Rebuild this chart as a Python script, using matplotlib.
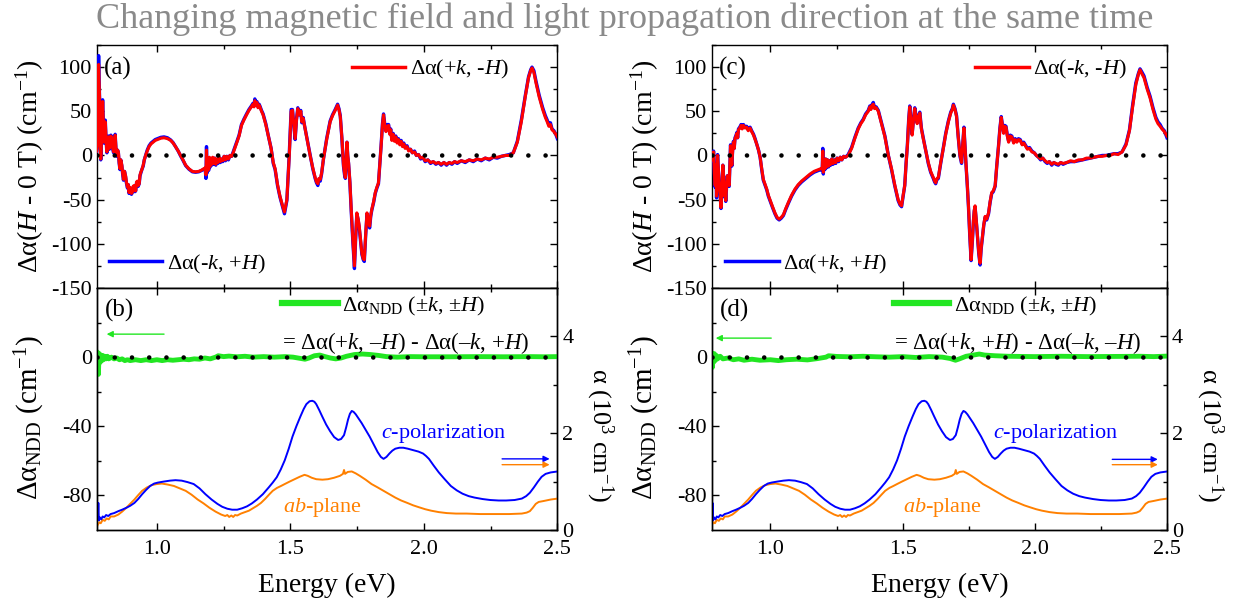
import matplotlib
matplotlib.use('Agg')
import matplotlib.pyplot as plt
from matplotlib.lines import Line2D
from matplotlib.ticker import FixedLocator, MultipleLocator, FormatStrFormatter

# ---------------- data ----------------
# panel (a): Delta alpha(H - 0 T), red = (+k,-H), blue = (-k,+H)
E_a = [0.775, 0.778, 0.782, 0.785, 0.787, 0.790, 0.793, 0.797, 0.800, 0.802,
       0.805, 0.807, 0.810, 0.813, 0.816, 0.819, 0.822, 0.825, 0.828, 0.832,
       0.835, 0.838, 0.841, 0.844, 0.847, 0.850, 0.853, 0.856, 0.859, 0.862,
       0.865, 0.869, 0.872, 0.875, 0.879, 0.883, 0.886, 0.890, 0.893, 0.896,
       0.899, 0.902, 0.905, 0.908, 0.911, 0.915, 0.918, 0.921, 0.924, 0.927,
       0.930, 0.934, 0.937, 0.940, 0.944, 0.949, 0.953, 0.958, 0.964, 0.971,
       0.978, 0.986, 0.994, 1.002, 1.015, 1.027, 1.040, 1.052, 1.061, 1.070,
       1.080, 1.089, 1.098, 1.108, 1.120, 1.133, 1.145, 1.157, 1.168, 1.176,
       1.181, 1.184, 1.186, 1.188, 1.191, 1.194, 1.197, 1.200, 1.203, 1.206,
       1.209, 1.213, 1.217, 1.221, 1.225, 1.229, 1.233, 1.238, 1.242, 1.247,
       1.252, 1.257, 1.262, 1.268, 1.274, 1.280, 1.286, 1.292, 1.300, 1.308,
       1.317, 1.326, 1.336, 1.345, 1.354, 1.360, 1.364, 1.367, 1.371, 1.375,
       1.379, 1.383, 1.386, 1.392, 1.398, 1.408, 1.417, 1.428, 1.436, 1.443,
       1.452, 1.461, 1.470, 1.478, 1.487, 1.496, 1.503, 1.508, 1.513, 1.518,
       1.523, 1.528, 1.533, 1.539, 1.543, 1.548, 1.553, 1.563, 1.574, 1.584,
       1.593, 1.598, 1.603, 1.607, 1.612, 1.617, 1.624, 1.636, 1.649, 1.658,
       1.668, 1.677, 1.682, 1.687, 1.693, 1.699, 1.703, 1.706, 1.712, 1.715,
       1.718, 1.723, 1.728, 1.734, 1.740, 1.745, 1.749, 1.754, 1.758, 1.763,
       1.768, 1.773, 1.777, 1.782, 1.787, 1.792, 1.797, 1.801, 1.805, 1.812,
       1.818, 1.824, 1.830, 1.835, 1.840, 1.845, 1.849, 1.853, 1.858, 1.863,
       1.868, 1.872, 1.876, 1.880, 1.885, 1.890, 1.895, 1.900, 1.905, 1.910,
       1.915, 1.920, 1.925, 1.930, 1.937, 1.943, 1.950, 1.957, 1.965, 1.972,
       1.980, 1.988, 1.996, 2.005, 2.015, 2.025, 2.035, 2.045, 2.055, 2.065,
       2.075, 2.085, 2.095, 2.105, 2.115, 2.125, 2.140, 2.155, 2.170, 2.185,
       2.200, 2.215, 2.230, 2.245, 2.260, 2.275, 2.290, 2.305, 2.320, 2.335,
       2.350, 2.365, 2.380, 2.392, 2.400, 2.405, 2.412, 2.420, 2.432, 2.445,
       2.455, 2.462, 2.468, 2.474, 2.480, 2.487, 2.494, 2.500]
red_a = [5, 11, 103, 70, 50, -4, 20, 61, 35, 15,
         30, 38, 18, 4, 15, 21, 8, 11, 22, 19,
         8, 4, 14, 23, 8, 0, 6, 4, -8, -15,
         -5, -11, -20, -27, -18, -23, -30, -36, -33, -42,
         -36, -38, -43, -42, -35, -34, -40, -40, -30, -29,
         -34, -32, -22, -19, -16, -11, -5, 0, 5, 10,
         13, 15, 17, 18, 19.5, 20, 19, 17, 14, 10,
         5, 0, -5, -11, -15, -18, -18.5, -18, -16.5, -15,
         -14, -22, 6, -18, -4, -16, -2, -12, -4, -10,
         -2, -9, -3, -10, -4, -8, -2, -7, -4, -6,
         -1, -5, -1, -4, 0, -1, 3, 8, 15, 22,
         34, 40, 46, 51, 55, 58, 55, 62, 57, 60,
         54, 57, 55, 50, 46, 35, 23, 8, -8, -15,
         -33, -46, -56, -64, -50, 0, 50, 51, 35, 19,
         40, 53, 46, 50, 38, 42, 34, 18, 0, -14,
         -25, -30, -32, -26, -27, -20, -4, 18, 38, 45,
         51, 57, 52, 44, 20, -11, -20, -25, 15, 0,
         -8, -30, -61, -95, -125, -90, -65, -72, -80, -96,
         -111, -117, -118, -90, -65, -74, -80, -68, -61, -52,
         -42, -36, -31, -10, 11, 35, 46, 36, 27, 33,
         34, 24, 29, 17, 24, 16, 21, 14, 18, 12,
         16, 10, 13, 8, 10, 5, 7, 3, 4, 0,
         1, -3, -2, -6, -5, -8, -7, -9, -8, -10,
         -8, -10, -8, -9, -7, -8, -6, -7, -5, -6,
         -4, -5, -3, -4, -2, -2, -1, 0, 0, 3,
         15, 38, 67, 88, 96, 99, 94, 82, 66, 52,
         43, 38, 33, 35, 29, 27, 24, 21]
blue_a = [5, 12, 113, 72, 52, -5, 22, 63, 36, 14,
          31, 40, 17, 3, 16, 22, 7, 12, 23, 19,
          7, 3, 15, 24, 7, -1, 6, 3, -9, -16,
          -5, -12, -21, -28, -18, -24, -31, -37, -33, -43,
          -37, -39, -44, -42, -36, -35, -41, -40, -31, -30,
          -35, -32, -23, -20, -16, -12, -5, 0, 6, 11,
          14, 16, 18, 19, 20.5, 21, 20, 17.5, 14.5, 10,
          5, -0.5, -5.5, -11.5, -15.5, -18.5, -19, -18.5, -17, -15.5,
          -15, -26, 10, -20, -4, -17, -3, -13, -5, -11,
          -3, -10, -3, -11, -5, -9, -2, -8, -4, -7,
          -1, -6, -1, -5, 0, -1, 4, 9, 16, 23,
          35, 41, 47, 52, 56, 59, 56, 64, 58, 61,
          55, 58, 56, 51, 47, 36, 23, 8, -9, -16,
          -34, -47, -57, -66, -51, 2, 52, 52, 34, 18,
          41, 54, 46, 51, 37, 43, 34, 18, 0, -15,
          -26, -31, -34, -27, -29, -21, -4, 19, 39, 46,
          52, 58, 53, 45, 19, -12, -22, -26, 15, -1,
          -9, -31, -63, -97, -128, -91, -66, -73, -82, -97,
          -112, -118, -120, -91, -66, -75, -82, -69, -62, -53,
          -43, -37, -32, -10, 12, 36, 47, 37, 28, 35,
          35, 25, 30, 18, 25, 17, 22, 15, 19, 13,
          17, 11, 14, 9, 11, 6, 7, 3, 5, 0,
          1, -4, -2, -7, -5, -9, -7, -10, -8, -11,
          -8, -11, -8, -10, -7, -9, -6, -8, -5, -7,
          -4, -6, -3, -5, -2, -3, -1, 0, 1, 3,
          16, 40, 68, 89, 97, 100, 96, 84, 68, 54,
          45, 40, 35, 37, 30, 28, 24, 19]

# panel (c): red = (-k,-H), blue = (+k,+H)
E_c = [0.778, 0.781, 0.785, 0.788, 0.791, 0.794, 0.796, 0.800, 0.803, 0.806,
       0.810, 0.813, 0.817, 0.820, 0.823, 0.826, 0.829, 0.831, 0.834, 0.837,
       0.840, 0.844, 0.847, 0.849, 0.852, 0.854, 0.857, 0.860, 0.863, 0.866,
       0.870, 0.873, 0.876, 0.879, 0.884, 0.889, 0.893, 0.898, 0.904, 0.910,
       0.916, 0.923, 0.929, 0.936, 0.942, 0.948, 0.955, 0.961, 0.967, 0.973,
       0.980, 0.986, 0.992, 0.998, 1.008, 1.017, 1.025, 1.033, 1.041, 1.049,
       1.058, 1.068, 1.080, 1.093, 1.105, 1.118, 1.134, 1.150, 1.165, 1.181,
       1.190, 1.196, 1.198, 1.200, 1.203, 1.206, 1.209, 1.212, 1.216, 1.220,
       1.224, 1.228, 1.232, 1.237, 1.242, 1.247, 1.252, 1.258, 1.264, 1.270,
       1.277, 1.284, 1.294, 1.307, 1.320, 1.332, 1.342, 1.351, 1.360, 1.370,
       1.376, 1.380, 1.385, 1.389, 1.394, 1.400, 1.408, 1.420, 1.433, 1.446,
       1.458, 1.470, 1.483, 1.490, 1.496, 1.502, 1.508, 1.513, 1.518, 1.523,
       1.527, 1.531, 1.536, 1.541, 1.546, 1.551, 1.555, 1.560, 1.565, 1.571,
       1.578, 1.588, 1.597, 1.606, 1.616, 1.621, 1.625, 1.630, 1.635, 1.644,
       1.654, 1.663, 1.673, 1.682, 1.688, 1.692, 1.698, 1.704, 1.710, 1.717,
       1.723, 1.728, 1.732, 1.736, 1.740, 1.745, 1.749, 1.754, 1.759, 1.764,
       1.768, 1.771, 1.774, 1.779, 1.784, 1.788, 1.793, 1.797, 1.802, 1.807,
       1.812, 1.818, 1.825, 1.831, 1.837, 1.843, 1.850, 1.856, 1.863, 1.868,
       1.873, 1.877, 1.882, 1.886, 1.891, 1.896, 1.901, 1.907, 1.913, 1.920,
       1.926, 1.932, 1.938, 1.945, 1.952, 1.958, 1.964, 1.972, 1.980, 1.989,
       1.998, 2.006, 2.014, 2.022, 2.030, 2.039, 2.047, 2.055, 2.064, 2.072,
       2.080, 2.089, 2.098, 2.107, 2.121, 2.135, 2.150, 2.165, 2.180, 2.195,
       2.210, 2.225, 2.240, 2.255, 2.270, 2.285, 2.300, 2.315, 2.330, 2.345,
       2.358, 2.370, 2.382, 2.392, 2.398, 2.404, 2.413, 2.425, 2.436, 2.447,
       2.458, 2.466, 2.474, 2.481, 2.490, 2.500]
red_c = [3, -5, 4, -20, -34, -10, -46, 0, -15, -34,
         -45, -59, -30, -11, -25, -46, -40, -51, -35, -23,
         -30, -34, -5, 11, -2, -11, 5, 15, 8, 19,
         22, 25, 20, 29, 31, 34, 30, 34, 31, 32,
         28, 31, 27, 23, 18, 13, 6, -2, -15, -27,
         -33, -38, -45, -50, -58, -65, -70, -72, -70, -67,
         -60, -53, -45, -38, -33, -29, -25, -21, -18, -16,
         -15, -15, 5, -19, -6, -15, -4, -13, -5, -12,
         -6, -10, -4, -9, -5, -8, -3, -6, -2, -5,
         -1, -2, 0, 8, 20, 30, 36, 40, 46, 50,
         55, 52, 57, 58, 53, 54, 50, 36, 21, 0,
         -15, -33, -50, -55, -57, -45, -34, -10, 11, 40,
         55, 40, 23, 40, 53, 42, 36, 44, 48, 30,
         19, 5, -8, -18, -25, -29, -31, -26, -25, -8,
         8, 24, 38, 48, 52, 57, 52, 44, 22, 0,
         -8, 15, 31, 10, -11, -35, -57, -90, -118, -95,
         -73, -62, -57, -75, -95, -110, -122, -105, -92, -78,
         -69, -72, -65, -52, -42, -40, -34, -12, 11, 30,
         43, 35, 25, 33, 32, 22, 15, 22, 21, 14,
         18, 15, 18, 17, 12, 14, 11, 7, 8, 4,
         3, 0, -2, -4, -3, -6, -8, -7, -10, -8,
         -9, -10, -8, -9, -8, -6, -7, -5, -5, -3,
         -3, -2, -1, -1, 0, 0, 2, 1, 4, 12,
         28, 55, 80, 92, 97, 93, 88, 75, 65, 52,
         41, 36, 33, 30, 27, 22]
blue_c = [4, -6, 5, -21, -36, -10, -48, 1, -16, -35,
          -46, -60, -31, -11, -26, -47, -41, -52, -36, -23,
          -31, -35, -5, 12, -2, -12, 6, 16, 8, 20,
          23, 26, 20, 30, 32, 35, 31, 35, 32, 33,
          29, 32, 28, 24, 19, 13, 6, -2, -16, -28,
          -34, -39, -46, -51, -59, -66, -71, -73, -71, -68,
          -61, -54, -46, -39, -34, -30, -26, -22, -19, -17,
          -16, -17, 8, -21, -7, -16, -4, -14, -5, -13,
          -6, -11, -4, -10, -5, -9, -3, -7, -2, -5,
          -1, -2, 1, 9, 21, 31, 37, 41, 47, 51,
          56, 53, 58, 60, 54, 55, 51, 37, 22, 0,
          -16, -34, -51, -56, -58, -46, -34, -9, 12, 41,
          56, 41, 24, 41, 54, 43, 37, 45, 49, 31,
          20, 5, -9, -19, -26, -30, -32, -27, -26, -9,
          9, 25, 39, 49, 53, 58, 53, 45, 22, -1,
          -9, 15, 32, 10, -12, -36, -58, -91, -119, -96,
          -74, -63, -58, -76, -96, -111, -124, -106, -93, -79,
          -70, -73, -66, -53, -43, -41, -35, -12, 12, 31,
          44, 36, 26, 34, 33, 23, 16, 23, 22, 15,
          19, 16, 19, 18, 13, 15, 12, 8, 9, 5,
          3, 0, -2, -5, -3, -7, -9, -7, -11, -8,
          -10, -11, -8, -10, -8, -7, -7, -6, -5, -4,
          -3, -2, -1, 0, 0, 1, 2, 2, 4, 13,
          29, 57, 82, 93, 98, 95, 90, 77, 67, 54,
          43, 38, 35, 31, 28, 20]

# panels (b) and (d): nonreciprocal difference
E_ndd_b = [0.775, 0.777, 0.779, 0.781, 0.783, 0.785, 0.788, 0.791, 0.794, 0.797,
           0.800, 0.805, 0.810, 0.815, 0.820, 0.830, 0.840, 0.850, 0.860, 0.870,
           0.880, 0.890, 0.900, 0.920, 0.940, 0.960, 0.980, 1.000, 1.020, 1.040,
           1.060, 1.080, 1.100, 1.120, 1.140, 1.160, 1.180, 1.200, 1.220, 1.230,
           1.250, 1.270, 1.300, 1.330, 1.360, 1.400, 1.440, 1.480, 1.510, 1.540,
           1.555, 1.570, 1.590, 1.610, 1.630, 1.650, 1.670, 1.690, 1.710, 1.740,
           1.770, 1.800, 1.830, 1.860, 1.900, 1.950, 2.000, 2.100, 2.200, 2.300,
           2.400, 2.450, 2.500]
ndd_b = [1, 3, -4, -10, -2, 2, -3, 1, -2, 1,
         -1.5, 0.5, -1, 0.5, -1, 0, -1, -0.5, -1.5, -1,
         -2, -1.5, -2, -1.5, -2, -1.5, -2, -1.5, -2, -1.5,
         -1.8, -1.5, -1.2, -1.5, -1, -1.2, -0.5, -1, 0, 0.8,
         0.3, 0.6, 0.2, 0.5, 0, 0.3, 0, 0.3, 0, -0.8,
         -1.2, -0.5, 0.8, 1.2, 0.3, -0.5, -1, -0.5, 0.5, 1.5,
         1.8, 1.5, 1, 0.3, 0, 0.3, 0.2, 0.2, 0.3, 0.2,
         0.3, 0.2, 0.3]
E_ndd_d = [0.778, 0.780, 0.782, 0.785, 0.788, 0.791, 0.795, 0.800, 0.810, 0.820,
           0.840, 0.860, 0.880, 0.900, 0.930, 0.960, 1.000, 1.030, 1.060, 1.100,
           1.140, 1.180, 1.210, 1.220, 1.250, 1.300, 1.350, 1.400, 1.450, 1.500,
           1.550, 1.600, 1.650, 1.680, 1.700, 1.715, 1.740, 1.760, 1.790, 1.810,
           1.850, 1.900, 2.000, 2.100, 2.200, 2.300, 2.400, 2.450, 2.500]
ndd_d = [2, -6, 1, -3, 2, -2, 1, -1, 0.5, -1,
         -0.5, -1.5, -1, -1.8, -1.2, -1.8, -1.5, -2, -1.5, -1.2,
         -1.6, -0.8, 0, 0.8, 0.4, 0.2, 0.5, 0.2, 0, 0.3,
         -0.2, 0.3, 0, -0.8, -1.8, -1, 0.5, 1, 1.8, 1.2,
         0.8, 0.5, 0.3, 0.5, 0.3, 0.4, 0.5, 0.3, 0.6]

# absorption spectra (right axis, 10^3 cm^-1)
E_cpol = [0.775, 0.779, 0.781, 0.783, 0.787, 0.792, 0.797, 0.803, 0.810, 0.818,
          0.827, 0.840, 0.856, 0.870, 0.886, 0.900, 0.916, 0.930, 0.945, 0.960,
          0.975, 0.990, 1.004, 1.025, 1.049, 1.070, 1.093, 1.115, 1.138, 1.160,
          1.182, 1.205, 1.227, 1.245, 1.264, 1.282, 1.301, 1.320, 1.338, 1.356,
          1.375, 1.397, 1.419, 1.434, 1.449, 1.464, 1.479, 1.494, 1.508, 1.523,
          1.538, 1.550, 1.560, 1.572, 1.582, 1.590, 1.597, 1.608, 1.619, 1.634,
          1.649, 1.664, 1.679, 1.690, 1.701, 1.709, 1.716, 1.723, 1.730, 1.737,
          1.745, 1.756, 1.767, 1.782, 1.797, 1.812, 1.827, 1.839, 1.849, 1.860,
          1.871, 1.882, 1.893, 1.908, 1.923, 1.940, 1.960, 1.980, 1.997, 2.008,
          2.019, 2.037, 2.056, 2.078, 2.101, 2.123, 2.145, 2.168, 2.190, 2.220,
          2.249, 2.280, 2.308, 2.340, 2.367, 2.383, 2.397, 2.412, 2.427, 2.441,
          2.456, 2.475, 2.501]
alpha_cpol = [0.18, 0.22, 0.56, 0.20, 0.26, 0.22, 0.28, 0.26, 0.31, 0.29,
              0.33, 0.35, 0.39, 0.42, 0.46, 0.50, 0.56, 0.64, 0.74, 0.83,
              0.91, 0.96, 0.98, 1.00, 1.02, 1.03, 1.02, 0.99, 0.95, 0.86,
              0.74, 0.63, 0.54, 0.48, 0.44, 0.42, 0.42, 0.45, 0.49, 0.55,
              0.63, 0.74, 0.88, 0.98, 1.09, 1.25, 1.44, 1.68, 1.93, 2.15,
              2.35, 2.50, 2.60, 2.66, 2.67, 2.65, 2.60, 2.48, 2.35, 2.18,
              2.04, 1.92, 1.86, 1.88, 1.96, 2.12, 2.28, 2.40, 2.46, 2.44,
              2.39, 2.30, 2.21, 2.07, 1.93, 1.77, 1.61, 1.51, 1.47, 1.51,
              1.58, 1.64, 1.68, 1.70, 1.70, 1.68, 1.65, 1.62, 1.58, 1.53,
              1.47, 1.33, 1.19, 1.05, 0.91, 0.82, 0.75, 0.70, 0.67, 0.64,
              0.62, 0.61, 0.61, 0.62, 0.65, 0.70, 0.77, 0.88, 1.00, 1.10,
              1.16, 1.19, 1.21]
E_ab = [0.775, 0.780, 0.785, 0.790, 0.797, 0.805, 0.812, 0.820, 0.827, 0.840,
        0.856, 0.870, 0.886, 0.900, 0.916, 0.930, 0.945, 0.963, 0.982, 1.000,
        1.019, 1.040, 1.064, 1.086, 1.108, 1.130, 1.153, 1.175, 1.197, 1.220,
        1.241, 1.256, 1.264, 1.271, 1.279, 1.286, 1.293, 1.301, 1.315, 1.330,
        1.345, 1.360, 1.375, 1.390, 1.405, 1.420, 1.434, 1.450, 1.465, 1.479,
        1.497, 1.516, 1.535, 1.553, 1.565, 1.580, 1.597, 1.620, 1.641, 1.664,
        1.686, 1.697, 1.701, 1.705, 1.715, 1.730, 1.745, 1.760, 1.782, 1.804,
        1.827, 1.849, 1.871, 1.893, 1.915, 1.938, 1.960, 1.982, 2.005, 2.027,
        2.056, 2.086, 2.120, 2.160, 2.210, 2.264, 2.320, 2.367, 2.385, 2.397,
        2.408, 2.419, 2.430, 2.449, 2.475, 2.501]
alpha_ab = [0.07, 0.12, 0.16, 0.14, 0.21, 0.19, 0.24, 0.22, 0.28, 0.28,
            0.32, 0.38, 0.46, 0.54, 0.63, 0.72, 0.81, 0.88, 0.93, 0.95,
            0.96, 0.94, 0.91, 0.86, 0.81, 0.73, 0.63, 0.55, 0.46, 0.38,
            0.32, 0.29, 0.31, 0.27, 0.30, 0.27, 0.31, 0.30, 0.34, 0.37,
            0.40, 0.45, 0.50, 0.56, 0.64, 0.73, 0.81, 0.87, 0.91, 0.95,
            1.00, 1.05, 1.10, 1.14, 1.12, 1.08, 1.05, 1.04, 1.05, 1.08,
            1.12, 1.16, 1.24, 1.16, 1.20, 1.21, 1.17, 1.12, 1.04, 0.95,
            0.88, 0.81, 0.74, 0.67, 0.61, 0.56, 0.51, 0.47, 0.43, 0.40,
            0.37, 0.35, 0.34, 0.34, 0.33, 0.33, 0.33, 0.34, 0.36, 0.39,
            0.46, 0.54, 0.58, 0.60, 0.63, 0.65]

x_major = [1.0, 1.5, 2.0, 2.5]
top_yticks = [-150, -100, -50, 0, 50, 100]
bot_yticks = [-80, -40, 0]
right_yticks = [0, 2, 4]

# ---------------- style ----------------
plt.rcParams.update({
    'font.family': ['Liberation Serif', 'DejaVu Serif'],
    'mathtext.fontset': 'custom',
    'mathtext.rm': 'Liberation Serif',
    'mathtext.it': 'Liberation Serif:italic',
    'mathtext.bf': 'Liberation Serif:bold',
    'axes.unicode_minus': False,
    'font.size': 16,
    'axes.linewidth': 1.0,
})
RED = '#ff0000'
BLUE = '#0000ff'
GREEN = '#22e622'
ORANGE = '#ff8000'
FS = 16
FSL = 20
DOT = dict(color='k', lw=3.3, ls=(0, (0.01, 3.75)), dash_capstyle='round', zorder=6)

fig = plt.figure(figsize=(12.5, 6.1), dpi=100)

Y_TOP, Y_MID, Y_BOT = 0.9262, 0.5279, 0.1311


def ticks(ax, **kw):
    ax.tick_params(which='both', direction='in', labelsize=FS, width=1.0, **kw)
    ax.tick_params(which='major', length=5)
    ax.tick_params(which='minor', length=3)


def column(left, width, xmin, E, red, blue, tag_top, tag_bot, red_lab, blue_lab,
           red_x, blue_x, E_ndd, ndd, green_x, formula, g_arrow, bo_arrow,
           cpol_x, ab_x, lab_cx, rlab_cx):
    ax1 = fig.add_axes([left, Y_MID, width, Y_TOP - Y_MID])
    ax2 = fig.add_axes([left, Y_BOT, width, Y_MID - Y_BOT])
    ax3 = ax2.twinx()

    # top panel
    ax1.plot(E, blue, color=BLUE, lw=2.4, zorder=3)
    ax1.plot(E, red, color=RED, lw=2.2, zorder=4)
    ax1.axhline(0, **DOT)
    ax1.set_xlim(xmin, 2.5)
    ax1.set_ylim(-150, 125)
    ax1.xaxis.set_major_locator(FixedLocator(x_major))
    ax1.xaxis.set_minor_locator(MultipleLocator(0.25))
    ax1.yaxis.set_major_locator(FixedLocator(top_yticks))
    ax1.yaxis.set_minor_locator(MultipleLocator(25))
    ticks(ax1, top=True, right=True, labelbottom=False)
    ax1.text(0.015, 0.95, tag_top, transform=ax1.transAxes, ha='left', va='top', fontsize=18)
    l1 = ax1.legend([Line2D([], [], color=RED, lw=2.5)], [red_lab], loc='center left',
                    bbox_to_anchor=(red_x, 0.898), frameon=False, handlelength=2.4,
                    handletextpad=0.2, borderpad=0, borderaxespad=0, fontsize=FS)
    ax1.add_artist(l1)
    ax1.legend([Line2D([], [], color=BLUE, lw=2.5)], [blue_lab], loc='center left',
               bbox_to_anchor=(blue_x, 0.098), frameon=False, handlelength=2.4,
               handletextpad=0.2, borderpad=0, borderaxespad=0, fontsize=FS)

    # bottom panel
    ax2.plot(E_ndd, ndd, color=GREEN, lw=3.5, zorder=3)
    ax2.axhline(0, **DOT)
    ax2.set_xlim(xmin, 2.5)
    ax2.set_ylim(-100, 40)
    ax2.xaxis.set_major_locator(FixedLocator(x_major))
    ax2.xaxis.set_minor_locator(MultipleLocator(0.25))
    ax2.xaxis.set_major_formatter(FormatStrFormatter('%.1f'))
    ax2.yaxis.set_major_locator(FixedLocator(bot_yticks))
    ax2.yaxis.set_minor_locator(FixedLocator([-60, -20, 20]))
    ticks(ax2, top=True, right=False)
    ax2.tick_params(axis='x', which='major', pad=7.5)
    ax2.text(0.017, 0.955, tag_bot, transform=ax2.transAxes, ha='left', va='top', fontsize=18)
    ax2.legend([Line2D([], [], color=GREEN, lw=4.5)],
               [r'Δα$_{\mathrm{NDD}}$ (±$k$, ±$H$)'], loc='center left',
               bbox_to_anchor=(green_x, 0.925), frameon=False, handlelength=2.5,
               handletextpad=0.2, borderpad=0, borderaxespad=0, fontsize=FS)
    ax2.text(green_x * (2.5 - xmin) + xmin, 8.0, formula, ha='left', va='center', fontsize=16.5)
    ax2.annotate('', xy=(g_arrow[0], g_arrow[2]), xytext=(g_arrow[1], g_arrow[2]),
                 arrowprops=dict(arrowstyle='-|>', color=GREEN, lw=1.0, mutation_scale=9,
                                 shrinkA=0, shrinkB=0))

    ax3.plot(E_ab, alpha_ab, color=ORANGE, lw=1.4)
    ax3.plot(E_cpol, alpha_cpol, color=BLUE, lw=1.4)
    ax3.set_ylim(0, 5)
    ax3.yaxis.set_major_locator(FixedLocator(right_yticks))
    ax3.yaxis.set_minor_locator(FixedLocator([1, 3]))
    ticks(ax3)
    ax3.annotate('', xy=(bo_arrow[1], bo_arrow[2]), xytext=(bo_arrow[0], bo_arrow[2]),
                 arrowprops=dict(arrowstyle='-|>', color=BLUE, lw=1.0, mutation_scale=9,
                                 shrinkA=0, shrinkB=0))
    ax3.annotate('', xy=(bo_arrow[1], bo_arrow[3]), xytext=(bo_arrow[0], bo_arrow[3]),
                 arrowprops=dict(arrowstyle='-|>', color=ORANGE, lw=1.0, mutation_scale=9,
                                 shrinkA=0, shrinkB=0))
    ax3.text(cpol_x, 2.0, r'$c$-polarization', color=BLUE, ha='left', va='center', fontsize=FS)
    ax3.text(ab_x, 0.47, r'$ab$-plane', color=ORANGE, ha='left', va='center', fontsize=FS)

    # axis labels
    fig.text(lab_cx, 0.728, r'Δα($H$ - 0 T) (cm$^{-1}$)', rotation=90, ha='center',
             va='center', fontsize=FSL)
    fig.text(lab_cx, 0.315, r'Δα$_{\mathrm{NDD}}$ (cm$^{-1}$)', rotation=90, ha='center',
             va='center', fontsize=FSL + 1)
    fig.text(rlab_cx, 0.287, r'α (10$^{3}$ cm$^{-1}$)', rotation=270, ha='center',
             va='center', fontsize=FSL - 1)
    fig.text(left + width / 2, 0.041, 'Energy (eV)', ha='center', va='center', fontsize=FSL)


column(0.0774, 0.3685, 0.775, E_a, red_a, blue_a, '(a)', '(b)',
       r'Δα(+$k$, -$H$)', r'Δα(-$k$, +$H$)', 0.554, 0.026,
       E_ndd_b, ndd_b, 0.403, r'= Δα(+$k$, –$H$) - Δα(–$k$, +$H$)',
       (0.812, 1.027, 13.3), (2.293, 2.471, 1.47, 1.35), 1.841, 1.471, 0.024, 0.4800)
column(0.5694, 0.3642, 0.778, E_c, red_c, blue_c, '(c)', '(d)',
       r'Δα(-$k$, -$H$)', r'Δα(+$k$, +$H$)', 0.579, 0.030,
       E_ndd_d, ndd_d, 0.400, r'= Δα(+$k$, +$H$) - Δα(–$k$, –$H$)',
       (0.793, 1.003, 11.0), (2.293, 2.465, 1.46, 1.35), 1.843, 1.500, 0.5156, 0.9675)

fig.text(0.5, 0.968, 'Changing magnetic field and light propagation direction at the same time',
         ha='center', va='center', fontsize=26, color='#8a8a8a')

fig.savefig('out.png', dpi=100)
